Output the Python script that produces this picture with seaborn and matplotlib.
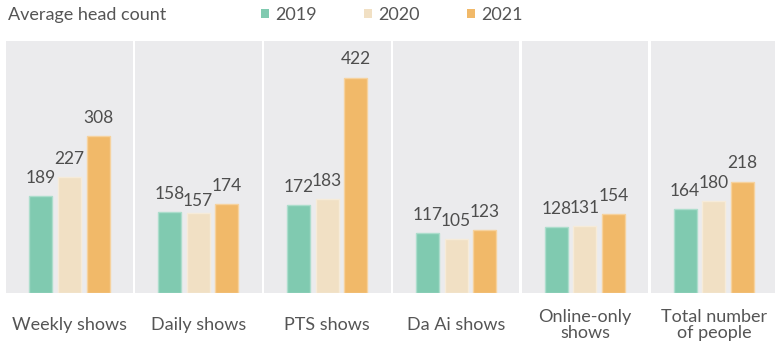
import matplotlib
matplotlib.use("Agg")
import matplotlib.pyplot as plt
import seaborn as sns
import pandas as pd
from matplotlib.patches import Patch

categories = ["Weekly shows", "Daily shows", "PTS shows", "Da Ai shows",
              "Online-only\nshows", "Total number\nof people"]
years = ["2019", "2020", "2021"]
v2019 = [189, 158, 172, 117, 128, 164]
v2020 = [227, 157, 183, 105, 131, 180]
v2021 = [308, 174, 422, 123, 154, 218]
title = "Average head count"

colors = ["#80cab0", "#f1e0c4", "#f1b969"]
panel_bg = "#ebebed"
text_col = "#555555"

sns.set_theme(style="white")
plt.rcParams["font.family"] = ["Lato", "DejaVu Sans"]

rows = []
for ci, cat in enumerate(categories):
    for yr, vals in zip(years, [v2019, v2020, v2021]):
        rows.append({"category": cat, "year": yr, "value": vals[ci]})
df = pd.DataFrame(rows)

W, H = 775, 346
fig = plt.figure(figsize=(W / 100, H / 100), dpi=100)

left, step, pw = 6.0, 128.9, 126.7
top, bottom = 41.0, 292.7
ymax = 494

for i, cat in enumerate(categories):
    ax = fig.add_axes([(left + i * step) / W, (H - bottom) / H,
                       pw / W, (bottom - top) / H])
    ax.set_facecolor(panel_bg)
    sub = df[df["category"] == cat]
    sns.barplot(data=sub, x="year", y="value", hue="year", order=years,
                hue_order=years, palette=colors, width=0.8, legend=False,
                ax=ax, saturation=1)
    for p in ax.patches:
        r, g, b = p.get_facecolor()[:3]
        p.set_edgecolor((r + (1 - r) * 0.35, g + (1 - g) * 0.35, b + (1 - b) * 0.35))
        p.set_linewidth(1.0)
    ax.set_xlim(1 - pw / 2 / 28.7, 1 + pw / 2 / 28.7)
    ax.set_ylim(0, ymax)
    for s in ax.spines.values():
        s.set_visible(False)
    ax.set_xticks([])
    ax.set_yticks([])
    ax.set_xlabel("")
    ax.set_ylabel("")

    # value labels above each bar; a label almost equal to its left
    # neighbour is dropped a little so the two don't run together
    vals = sub.set_index("year").loc[years, "value"].tolist()
    for j, v in enumerate(vals):
        off = 9.5
        if j > 0 and 0 <= vals[j - 1] - v < 3:
            off -= 4.5
        ax.annotate(str(v), (j, v), xytext=(0, off), textcoords="offset points",
                    ha="center", va="baseline", fontsize=12.5, color="#4d4d4d")

    ax.text(0.5, -0.127, cat, transform=ax.transAxes, ha="center", va="center",
            fontsize=13, color=text_col, linespacing=1.0)

fig.text(8 / W, 1 - 15 / H, title, ha="left", va="center",
         fontsize=13, color=text_col)

handles = [Patch(facecolor=c, edgecolor="none") for c in colors]
fig.legend(handles, years, loc="center left",
           bbox_to_anchor=(261 / W, 1 - 15 / H), ncol=3, frameon=False,
           fontsize=13, labelcolor=text_col, handlelength=0.45,
           handleheight=0.45, handletextpad=0.35, columnspacing=2.6,
           borderpad=0, borderaxespad=0)

fig.savefig("out.png", dpi=100, facecolor="white")
